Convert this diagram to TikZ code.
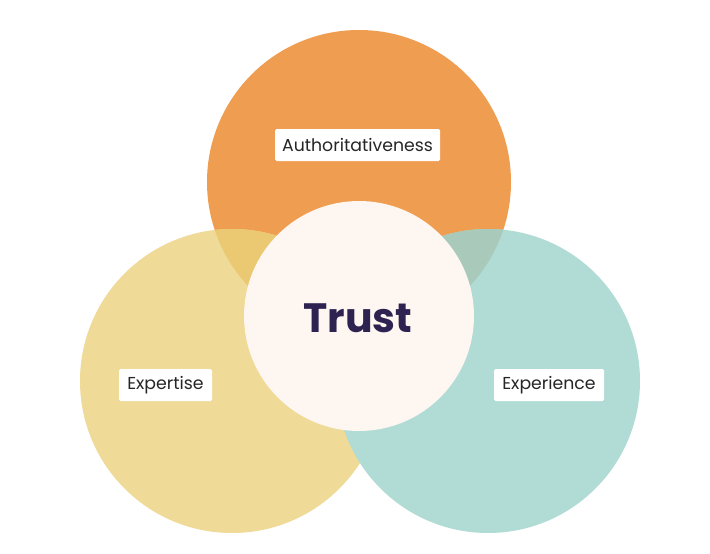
\documentclass[tikz,border=0pt]{standalone}
\usepackage{fontspec}
\setmainfont{Poppins}
\begin{document}
\begin{tikzpicture}[x=1pt,y=-1pt,
  tag/.style={fill=white,rounded corners=1.5pt,inner sep=0pt,minimum height=32pt,text=black!85,font=\fontsize{17.3}{19}\selectfont},
  disc/.style={circle,inner sep=0pt,minimum size=304pt}]
\definecolor{corange}{HTML}{EF9D50}
\definecolor{cyellow}{HTML}{EFDA97}
\definecolor{cteal}{HTML}{B1DCD5}
\definecolor{cyo}{HTML}{EBC872}
\definecolor{cto}{HTML}{A9CABA}
\definecolor{ccenter}{HTML}{FDF6F1}
\definecolor{ctrust}{HTML}{2E2350}
\useasboundingbox[fill=white] (0,0) rectangle (710,554);
\node[disc,fill=corange] (auth) at (359,182) {};
\node[disc,fill=cyellow] (expt) at (232,381) {};
\node[disc,fill=cteal] (expr) at (488,381) {};
\begin{scope}
  \clip (359,182) circle (152);
  \fill[cyo] (232,381) circle (152);
  \fill[cto] (488,381) circle (152);
\end{scope}
\node[circle,inner sep=0pt,minimum size=230pt,fill=ccenter] (trust) at (359,316) {};
\node[text=ctrust,font=\fontsize{41}{46}\selectfont\bfseries] (trustlbl) at (358,318) {Trust};
\node[tag,minimum width=165pt] (authlbl) at (357.5,145) {Authoritativeness};
\node[tag,minimum width=93pt] (exptlbl) at (165.5,385) {Expertise};
\node[tag,minimum width=110pt] (exprlbl) at (549,385) {Experience};
\end{tikzpicture}
\end{document}
